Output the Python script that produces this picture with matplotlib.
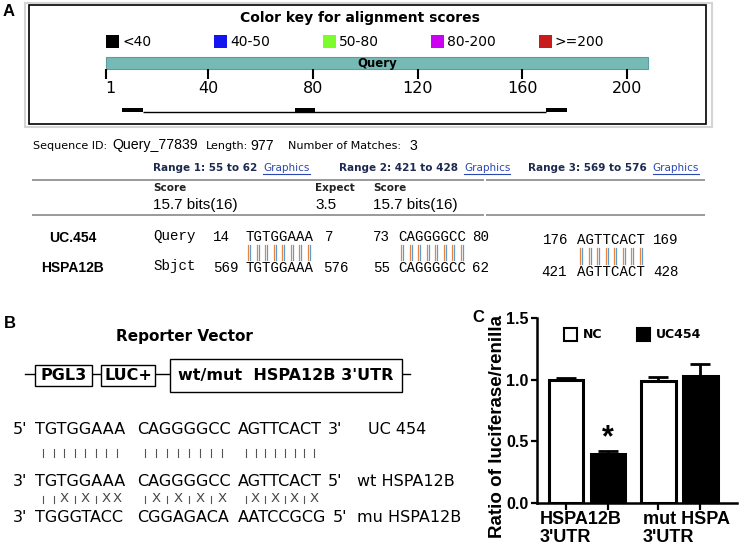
import matplotlib
matplotlib.use("Agg")
import matplotlib.pyplot as plt
from matplotlib.patches import Rectangle

# ---------------- data ----------------
# Panel A: BLAST colour key and query ruler
key_labels = ["<40", "40-50", "50-80", "80-200", ">=200"]
key_colors = ["#000000", "#1414f0", "#7dfc2c", "#cc00f2", "#c81c1c"]
query_len = 208
ruler_ticks = [1, 40, 80, 120, 160, 200]
hits = [(7, 14), (73, 80), (169, 176)]

seq_id = "Query_77839"
seq_length = 977
n_matches = 3
ranges = [(55, 62), (421, 428), (569, 576)]
score_text = "15.7 bits(16)"
expect_value = 3.5

q_starts = [14, 73, 176]
q_seqs = ["TGTGGAAA", "CAGGGGCC", "AGTTCACT"]
q_ends = [7, 80, 169]
s_starts = [569, 55, 421]
s_seqs = ["TGTGGAAA", "CAGGGGCC", "AGTTCACT"]
s_ends = [576, 62, 428]

# Panel B: reporter construct and sequences
construct = ["PGL3", "LUC+", "wt/mut  HSPA12B 3'UTR"]
seq_uc = ["TGTGGAAA", "CAGGGGCC", "AGTTCACT"]
seq_wt = ["TGTGGAAA", "CAGGGGCC", "AGTTCACT"]
seq_mu = ["TGGGTACC", "CGGAGACA", "AATCCGCG"]
pair_wt_mu = ["||X|X|XX", "|X|X|X|X", "|X|X|X|X"]
row_names = ["UC 454", "wt HSPA12B", "mu HSPA12B"]
row_ends = [("5'", "3'"), ("3'", "5'"), ("3'", "5'")]

# Panel C: luciferase assay
groups = ["HSPA12B\n3'UTR", "mut HSPA\n3'UTR"]
series = ["NC", "UC454"]
nc_mean = [1.00, 0.99]
nc_err = [0.015, 0.03]
uc_mean = [0.395, 1.03]
uc_err = [0.03, 0.095]

# ---------------- figure ----------------
W, H = 740, 552
fig = plt.figure(figsize=(W / 100, H / 100), dpi=100)
fig.patch.set_facecolor("white")
renderer = fig.canvas.get_renderer()


def rect(x0, y0, x1, y1):
    return [x0 / W, 1 - y1 / H, (x1 - x0) / W, (y1 - y0) / H]


ov = fig.add_axes([0, 0, 1, 1])
ov.set_xlim(0, W)
ov.set_ylim(H, 0)
ov.axis("off")

SANS = "DejaVu Sans"
ARIAL = "Liberation Sans"
MONO = "Liberation Mono"


def txt(x, y, s, **kw):
    kw.setdefault("va", "center")
    kw.setdefault("ha", "left")
    return ov.text(x, y, s, **kw)


def extent(t):
    bb = t.get_window_extent(renderer)
    return bb.x0, bb.x1


# panel letters
for lab, (x, y) in zip("ABC", [(9, 12), (10, 323), (478, 318)]):
    txt(x, y, lab, ha="center", fontsize=12, fontweight="bold", family=ARIAL)

# ---------- Panel A ----------
ov.add_patch(Rectangle((25, 3), 687, 124, fill=False, edgecolor="#d4d4d4", lw=1.5))
ov.add_patch(Rectangle((29, 5), 677, 119, fill=False, edgecolor="black", lw=1.2))
txt(360, 18, "Color key for alignment scores", ha="center", fontsize=10,
    fontweight="bold", family=SANS)
key_x = [106, 214, 323, 431, 539]
for kx, lab, col in zip(key_x, key_labels, key_colors):
    ov.add_patch(Rectangle((kx, 34.5), 13, 13, facecolor=col, edgecolor="none"))
    txt(kx + 16, 41.5, lab, fontsize=10, family=SANS)

scale = (627 - 106) / (200 - 1)
axQ = fig.add_axes(rect(29, 50, 706, 122))
axQ.set_xlim(1 - (106 - 29) / scale, 1 + (706 - 106) / scale)
axQ.set_ylim(122, 50)
axQ.axis("off")
axQ.add_patch(Rectangle((1, 57), query_len - 1, 12, facecolor="#76bab5",
                        edgecolor="#5a9f9a", lw=0.8))
axQ.text((1 + query_len) / 2, 63, "Query", ha="center", va="center",
         fontsize=8.5, fontweight="bold", family=SANS)
axQ.vlines(ruler_ticks, 69, 79, color="black", lw=1.5)
for t in ruler_ticks:
    axQ.text(t + (1.5 if t == 1 else 0), 88.5, str(t), ha="center", va="center",
             fontsize=11.5, family=SANS)
axQ.hlines(111.5, hits[0][1] + 1, hits[-1][0], color="black", lw=1)
for s, e in hits:
    axQ.add_patch(Rectangle((s, 107.5), e - s + 1, 4.5, facecolor="black",
                            edgecolor="none"))

# sequence info line
txt(33, 146, "Sequence ID:", fontsize=8, family=SANS)
txt(112, 145.5, seq_id, fontsize=10.2, family=ARIAL)
txt(206, 146, "Length:", fontsize=8, family=SANS)
txt(250, 145.5, str(seq_length), fontsize=10.2, family=ARIAL)
txt(288, 146, "Number of Matches:", fontsize=8, family=SANS)
txt(410, 145.5, str(n_matches), fontsize=10.2, family=ARIAL)

range_x = [153, 339, 528]
for i, ((a, b), rx) in enumerate(zip(ranges, range_x)):
    t = txt(rx, 168, f"Range {i + 1}: {a} to {b}", fontsize=7.5,
            fontweight="bold", family=SANS, color="#1d2a50")
    x0, x1 = extent(t)
    g = txt(x1 + 6, 168, "Graphics", fontsize=7.5, family=SANS, color="#2b48b0")
    gx0, gx1 = extent(g)
    ov.plot([gx0, gx1], [173.5, 173.5], color="#2b48b0", lw=0.8)

for y in (179.5, 214.5):
    ov.plot([32, 484], [y, y], color="#9a9a9a", lw=1.4, solid_capstyle="butt")
    ov.plot([486, 705], [y, y], color="#9a9a9a", lw=1.4, solid_capstyle="butt")

txt(153, 188, "Score", fontsize=7.5, fontweight="bold", family=SANS, color="#222222")
txt(315, 188, "Expect", fontsize=7.5, fontweight="bold", family=SANS, color="#222222")
txt(373, 188, "Score", fontsize=7.5, fontweight="bold", family=SANS, color="#222222")
txt(153, 205, score_text, fontsize=11, family=ARIAL)
txt(315, 205, str(expect_value), fontsize=11, family=ARIAL)
txt(373, 205, score_text, fontsize=11, family=ARIAL)

txt(73, 238, "UC.454", ha="center", fontsize=10, fontweight="bold", family=ARIAL)
txt(72, 268, "HSPA12B", ha="center", fontsize=10, fontweight="bold", family=ARIAL)
txt(153, 236, "Query", fontsize=10.2, family=MONO)
txt(153, 266, "Sbjct", fontsize=10.2, family=MONO)

mono_size = 10.2
char_w = 0.6 * mono_size * 100 / 72
num_x = [213, 373, 543]
seq_x = [245, 398, 577]
end_x = [325, 472, 653]
yq = [237, 237, 240]
ys = [268, 268, 272]
for i in range(3):
    txt(num_x[i], yq[i], str(q_starts[i]), fontsize=mono_size, family=MONO)
    txt(seq_x[i], yq[i], q_seqs[i], fontsize=mono_size, family=MONO)
    txt(end_x[i], yq[i], str(q_ends[i]), fontsize=mono_size, family=MONO)
    txt(num_x[i] - (2 if i == 2 else 0), ys[i], str(s_starts[i]),
        fontsize=mono_size, family=MONO)
    txt(seq_x[i], ys[i], s_seqs[i], fontsize=mono_size, family=MONO)
    txt(end_x[i] - (2 if i == 0 else 0), ys[i], str(s_ends[i]),
        fontsize=mono_size, family=MONO)
    for k, (a, b) in enumerate(zip(q_seqs[i], s_seqs[i])):
        if a == b:
            cx = seq_x[i] + (k + 0.5) * char_w
            y0, y1 = yq[i] + 8, ys[i] - 8
            ov.plot([cx - 1, cx - 1], [y0, y1], color="#e8843c", lw=0.9)
            ov.plot([cx + 1, cx + 1], [y0, y1], color="#5b9bd8", lw=0.9)

# ---------- Panel B ----------
txt(184, 337, "Reporter Vector", ha="center", fontsize=11, fontweight="bold", family=SANS)
ov.plot([25, 410], [374, 374], color="black", lw=1, zorder=1)
boxes = [(35, 365, 92, 386), (101, 365, 155, 386), (170, 359, 402, 392)]
for (x0, y0, x1, y1), lab in zip(boxes, construct):
    ov.add_patch(Rectangle((x0, y0), x1 - x0, y1 - y0, facecolor="white",
                           edgecolor="black", lw=1, zorder=2))
    txt((x0 + x1) / 2, (y0 + y1) / 2, lab, ha="center", fontsize=11.5,
        fontweight="bold", family=SANS, zorder=3)

grp_x = [35, 137, 238]
row_y = [430, 482, 518]
rows = [seq_uc, seq_wt, seq_mu]
label_x = [368, 357, 357]
seq_fs = 11.5
group_ext = []
for r in range(3):
    txt(13, row_y[r], row_ends[r][0], fontsize=seq_fs, family=SANS)
    exts = []
    for g in range(3):
        t = txt(grp_x[g], row_y[r], rows[r][g], fontsize=seq_fs, family=SANS)
        exts.append(extent(t))
    group_ext.append(exts)
    txt(exts[2][1] + 6, row_y[r], row_ends[r][1], fontsize=seq_fs, family=SANS)
    txt(label_x[r], row_y[r], row_names[r], fontsize=seq_fs, family=SANS)

# match bars between UC454 and wt
for g in range(3):
    x0, x1 = group_ext[0][g]
    n = len(seq_uc[g])
    for k in range(n):
        if seq_uc[g][k] == seq_wt[g][k]:
            cx = x0 + 3 + (x1 - x0 - 6) * (k + 0.5) / n
            ov.plot([cx, cx], [449, 457], color="#555555", lw=0.8)
# wt vs mutant symbols
for g in range(3):
    x0, x1 = group_ext[1][g]
    n = len(pair_wt_mu[g])
    for k, sym in enumerate(pair_wt_mu[g]):
        cx = x0 + 3 + (x1 - x0 - 6) * (k + 0.5) / n
        if sym == "|":
            ov.plot([cx, cx], [496, 503], color="#555555", lw=0.8)
        else:
            txt(cx, 499, "X", ha="center", fontsize=9.5, family=SANS, color="#444444")

# ---------- Panel C ----------
axC = fig.add_axes(rect(537, 318, 737, 503))
axC.patch.set_visible(False)
unit = 42.0
gpos = [0.0, 2.2]
off = 0.5
bw = 0.82
x_nc = [g - off for g in gpos]
x_uc = [g + off for g in gpos]
axC.bar(x_nc, nc_mean, width=bw, color="white", edgecolor="black", lw=2.2, zorder=2)
axC.bar(x_uc, uc_mean, width=bw, color="black", edgecolor="black", lw=2.2, zorder=2)
axC.errorbar(x_nc, nc_mean, yerr=[[0, 0], nc_err], fmt="none", ecolor="black",
             elinewidth=2, capsize=7, capthick=2, zorder=3)
axC.errorbar(x_uc, uc_mean, yerr=[[0, 0], uc_err], fmt="none", ecolor="black",
             elinewidth=2, capsize=7, capthick=2, zorder=3)
axC.text(x_uc[0], uc_mean[0] + uc_err[0] + 0.1, "*", ha="center", va="center",
         fontsize=22, fontweight="bold", family=ARIAL)
axC.set_xlim(x_nc[0] - 29 / unit, x_nc[0] + (737 - 566) / unit)
axC.set_ylim(0, 1.5)
axC.set_yticks([0, 0.5, 1.0, 1.5])
axC.set_yticklabels(["0.0", "0.5", "1.0", "1.5"], fontsize=11.5,
                    fontweight="bold", family=ARIAL)
axC.set_xticks(x_nc + x_uc)
axC.set_xticklabels([])
axC.tick_params(axis="y", length=4, width=1.6, pad=2)
axC.tick_params(axis="x", length=5, width=1.6)
for s in ("top", "right"):
    axC.spines[s].set_visible(False)
for s in ("left", "bottom"):
    axC.spines[s].set_linewidth(1.8)

fig.text(497 / W, 1 - 427 / H, "Ratio of luciferase/renilla", rotation=90,
         ha="center", va="center", fontsize=13.5, fontweight="bold", family=ARIAL)

lab_x = [540, 643]
for lx, lab in zip(lab_x, groups):
    txt(lx, 511, lab, va="top", fontsize=13, fontweight="bold", family=ARIAL,
        linespacing=1.05)

# legend
leg_x = [564, 637]
leg_fc = ["white", "black"]
for lx, fc, name in zip(leg_x, leg_fc, series):
    ov.add_patch(Rectangle((lx, 328), 13, 12.5, facecolor=fc, edgecolor="black", lw=1.5))
    txt(lx + 19, 334, name, fontsize=9, fontweight="bold", family=SANS)

fig.savefig("out.png", dpi=100)
